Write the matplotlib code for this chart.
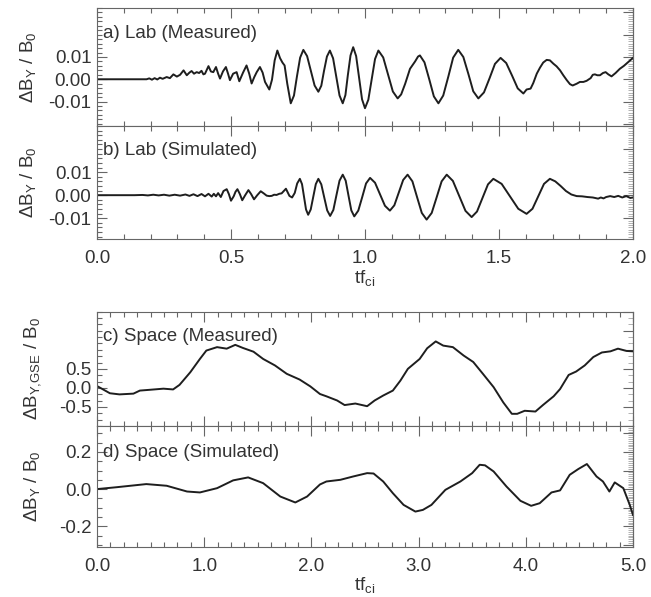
import matplotlib
matplotlib.use("Agg")
import matplotlib.pyplot as plt
from matplotlib.ticker import MultipleLocator, FixedLocator, FormatStrFormatter

plt.rcParams['font.family'] = ['Liberation Sans', 'DejaVu Sans']
plt.rcParams['axes.unicode_minus'] = False

# a) Lab (Measured)
t_a = [0.000, 0.185, 0.195, 0.205, 0.215, 0.225, 0.235, 0.245, 0.260, 0.272,
       0.285, 0.298, 0.310, 0.323, 0.335, 0.345, 0.353, 0.362, 0.372, 0.381,
       0.390, 0.397, 0.403, 0.416, 0.425, 0.434, 0.444, 0.452, 0.459, 0.470,
       0.481, 0.489, 0.496, 0.508, 0.521, 0.531, 0.545, 0.558, 0.568, 0.577,
       0.587, 0.596, 0.608, 0.618, 0.627, 0.643, 0.653, 0.663, 0.673, 0.683,
       0.692, 0.700, 0.710, 0.723, 0.735, 0.746, 0.758, 0.770, 0.784, 0.798,
       0.812, 0.826, 0.837, 0.847, 0.858, 0.869, 0.881, 0.893, 0.905, 0.917,
       0.927, 0.936, 0.946, 0.956, 0.967, 0.978, 0.989, 1.000, 1.0125, 1.025,
       1.0375, 1.050, 1.068, 1.086, 1.104, 1.122, 1.135, 1.150, 1.168, 1.187,
       1.198, 1.205, 1.222, 1.240, 1.257, 1.274, 1.292, 1.311, 1.329, 1.348,
       1.367, 1.386, 1.404, 1.423, 1.444, 1.465, 1.485, 1.506, 1.527, 1.549,
       1.570, 1.591, 1.603, 1.618, 1.628, 1.641, 1.653, 1.665, 1.678, 1.690,
       1.703, 1.715, 1.728, 1.740, 1.753, 1.765, 1.775, 1.790, 1.802, 1.815,
       1.827, 1.842, 1.850, 1.858, 1.867, 1.877, 1.888, 1.898, 1.908, 1.920,
       1.935, 1.951, 1.966, 1.982, 2.000]
dby_a = [0, 0, 0.0004, -0.0002, 0.0005, -0.0001, 0.0007, 0.0002, 0.0010, 0.0005,
         0.0022, 0.0012, 0.0020, 0.0040, 0.0018, 0.0030, 0.0037, 0.0025, 0.0032, 0.0028,
         0.0038, 0.0022, 0.0025, 0.0059, 0.0035, 0.0032, 0.0055, 0.0025, 0.0003, 0.0035,
         0.0055, 0.0025, -0.0004, 0.0025, 0.0032, -0.0009, 0.0030, 0.0062, 0.0025, -0.0019,
         0.0010, 0.0032, 0.0055, 0.0030, -0.0012, -0.0046, -0.0002, 0.0085, 0.0129, 0.0095,
         0.0075, 0.0062, -0.0020, -0.0108, -0.0073, 0.0012, 0.0097, 0.0132, 0.0104, 0.0038,
         -0.0028, -0.0056, -0.0029, 0.0037, 0.0102, 0.0129, 0.0094, 0.0011, -0.0073, -0.0108,
         -0.0071, 0.0018, 0.0107, 0.0144, 0.0104, 0.0007, -0.0090, -0.0130, -0.0092, 0.0000,
         0.0091, 0.0129, 0.0098, 0.0022, -0.0055, -0.0086, -0.0068, -0.0020, 0.0047, 0.0080,
         0.0102, 0.0107, 0.0076, -0.0001, -0.0077, -0.0108, -0.0073, 0.0012, 0.0097, 0.0132,
         0.0100, 0.0023, -0.0054, -0.0086, -0.0059, 0.0005, 0.0069, 0.0096, 0.0073, 0.0016,
         -0.0041, -0.0064, -0.0046, -0.0042, -0.0017, 0.0025, 0.0052, 0.0075, 0.0087, 0.0085,
         0.0070, 0.0058, 0.0040, 0.0018, -0.0004, -0.0022, -0.0028, -0.0020, -0.0012, -0.0012,
         -0.0007, 0.0005, 0.0020, 0.0022, 0.0018, 0.0018, 0.0028, 0.0032, 0.0022, 0.0013,
         0.0028, 0.0047, 0.0060, 0.0077, 0.0096]

# b) Lab (Simulated)
t_b = [0.000, 0.140, 0.170, 0.190, 0.210, 0.230, 0.250, 0.270, 0.290, 0.310,
       0.330, 0.345, 0.360, 0.375, 0.390, 0.403, 0.416, 0.428, 0.436, 0.444,
       0.452, 0.462, 0.472, 0.484, 0.492, 0.500, 0.510, 0.517, 0.524, 0.533,
       0.542, 0.553, 0.565, 0.575, 0.586, 0.598, 0.611, 0.622, 0.633, 0.643,
       0.652, 0.661, 0.670, 0.680, 0.689, 0.697, 0.705, 0.718, 0.728, 0.738,
       0.747, 0.757, 0.765, 0.7725, 0.780, 0.788, 0.7975, 0.807, 0.8165, 0.826,
       0.837, 0.848, 0.859, 0.870, 0.882, 0.8935, 0.905, 0.917, 0.928, 0.9385,
       0.949, 0.960, 0.975, 0.9895, 1.004, 1.019, 1.0375, 1.056, 1.0745, 1.093,
       1.1095, 1.126, 1.1425, 1.159, 1.177, 1.1945, 1.212, 1.230, 1.249, 1.2675,
       1.286, 1.305, 1.328, 1.3515, 1.375, 1.398, 1.418, 1.4385, 1.459, 1.479,
       1.510, 1.541, 1.572, 1.603, 1.625, 1.6465, 1.668, 1.690, 1.710, 1.730,
       1.750, 1.770, 1.790, 1.810, 1.830, 1.850, 1.870, 1.880, 1.890, 1.900,
       1.915, 1.930, 1.945, 1.960, 1.975, 1.990, 2.000]
dby_b = [0, 0, 0.0001, -0.0001, 0.0002, -0.0001, 0.0002, -0.0002, 0.0002, -0.0002,
         0.0003, -0.0003, 0.0004, -0.0004, 0.0005, -0.0005, 0.0006, -0.0006, 0.0006, -0.0005,
         0.0009, -0.0008, 0.0018, 0.0026, 0.0005, -0.0024, -0.0005, 0.0015, 0.0026, 0.0005,
         -0.0022, 0.0000, 0.0022, 0.0005, -0.0018, 0.0000, 0.0017, 0.0008, -0.0002, -0.0004,
         -0.0003, 0.0002, 0.0001, 0.0006, 0.0008, 0.0018, 0.0028, -0.0003, -0.0010, 0.0010,
         0.0051, 0.0071, 0.0048, -0.0007, -0.0062, -0.0085, -0.0062, -0.0007, 0.0048, 0.0071,
         0.0047, -0.0010, -0.0066, -0.0090, -0.0064, 0.0000, 0.0063, 0.0089, 0.0063, -0.0002,
         -0.0066, -0.0092, -0.0067, -0.0009, 0.0051, 0.0075, 0.0054, 0.0004, -0.0046, -0.0067,
         -0.0044, 0.0011, 0.0066, 0.0089, 0.0060, -0.0009, -0.0077, -0.0106, -0.0077, -0.0009,
         0.0060, 0.0089, 0.0062, -0.0003, -0.0068, -0.0095, -0.0071, -0.0012, 0.0047, 0.0071,
         0.0049, -0.0005, -0.0059, -0.0081, -0.0059, -0.0005, 0.0049, 0.0071, 0.0060, 0.0040,
         0.0018, 0.0003, -0.0004, -0.0005, -0.0008, -0.0010, -0.0015, -0.0010, -0.0014, -0.0008,
         -0.0004, -0.0008, -0.0003, -0.0010, -0.0004, -0.0012, -0.0010]

# c) Space (Measured)
t_c = [0.00, 0.12, 0.21, 0.34, 0.40, 0.49, 0.62, 0.71, 0.77, 0.87,
       0.96, 1.02, 1.12, 1.21, 1.29, 1.36, 1.46, 1.55, 1.66, 1.77,
       1.89, 1.99, 2.08, 2.14, 2.24, 2.31, 2.41, 2.52, 2.59, 2.67,
       2.76, 2.83, 2.90, 3.01, 3.08, 3.16, 3.23, 3.32, 3.42, 3.51,
       3.60, 3.70, 3.79, 3.87, 3.92, 3.99, 4.09, 4.16, 4.26, 4.32,
       4.40, 4.47, 4.55, 4.63, 4.71, 4.79, 4.86, 4.94, 5.00]
dby_c = [0.05, -0.14, -0.17, -0.15, -0.07, -0.05, -0.02, -0.04, 0.08, 0.41,
         0.76, 0.98, 1.07, 1.03, 1.13, 1.05, 0.95, 0.76, 0.59, 0.37,
         0.22, 0.04, -0.16, -0.22, -0.33, -0.45, -0.41, -0.48, -0.33, -0.20,
         -0.07, 0.19, 0.50, 0.76, 1.04, 1.22, 1.11, 1.07, 0.85, 0.68,
         0.37, 0.02, -0.38, -0.68, -0.68, -0.60, -0.62, -0.45, -0.22, -0.03,
         0.34, 0.43, 0.59, 0.81, 0.93, 0.96, 1.03, 0.97, 0.96]

# d) Space (Simulated)
t_d = [0.00, 0.18, 0.46, 0.65, 0.84, 0.96, 1.12, 1.27, 1.41, 1.55,
       1.71, 1.85, 1.96, 2.08, 2.14, 2.27, 2.39, 2.52, 2.58, 2.67,
       2.76, 2.86, 2.97, 3.04, 3.12, 3.25, 3.39, 3.50, 3.57, 3.62,
       3.70, 3.82, 3.95, 4.05, 4.13, 4.24, 4.32, 4.41, 4.49, 4.57,
       4.66, 4.72, 4.78, 4.83, 4.91, 4.97, 5.00]
dby_d = [0.0, 0.01, 0.027, 0.018, -0.013, -0.018, 0.005, 0.047, 0.063, 0.032,
         -0.04, -0.072, -0.04, 0.025, 0.041, 0.050, 0.068, 0.086, 0.084, 0.041,
         -0.022, -0.085, -0.121, -0.112, -0.085, -0.004, 0.041, 0.086, 0.131, 0.128,
         0.095, 0.014, -0.063, -0.09, -0.076, -0.018, -0.007, 0.077, 0.108, 0.135,
         0.068, 0.041, -0.013, 0.036, 0.005, -0.085, -0.139]

panel_titles = ['a) Lab (Measured)', 'b) Lab (Simulated)',
                'c) Space (Measured)', 'd) Space (Simulated)']
yticks_lab = [-0.01, 0.0, 0.01]
yticks_c = [-0.5, 0.0, 0.5]
yticks_d = [-0.2, 0.0, 0.2]

ink = '#333333'
axc = '#666666'
fs = 13.5

fig = plt.figure(figsize=(6.51, 5.97), dpi=100)
L, W = 0.149, 0.8233
ax_a = fig.add_axes([L, 0.7889, W, 0.1977])
ax_b = fig.add_axes([L, 0.5997, W, 0.1892])
ax_c = fig.add_axes([L, 0.2864, W, 0.1915])
ax_d = fig.add_axes([L, 0.0843, W, 0.2022])


def panel(ax, t, v, title, xlim, xmaj, xmin, ylim, yticks, yfmt, ymin,
          rmaj, rmin, ylabel, ylab_x, show_x):
    ax.plot(t, v, color='#1e1e1e', lw=1.4)
    ax.set_xlim(*xlim)
    ax.set_ylim(*ylim)
    ax.xaxis.set_major_locator(MultipleLocator(xmaj))
    ax.xaxis.set_minor_locator(MultipleLocator(xmin))
    ax.yaxis.set_major_locator(FixedLocator(yticks))
    ax.yaxis.set_minor_locator(MultipleLocator(ymin))
    ax.yaxis.set_major_formatter(FormatStrFormatter(yfmt))
    ax.xaxis.set_major_formatter(FormatStrFormatter('%.1f'))
    ax.tick_params(which='both', direction='in', top=True, right=False,
                   color=axc, width=0.8, labelsize=fs, labelcolor=ink)
    ax.tick_params(which='major', length=7)
    ax.tick_params(which='minor', length=3.5)
    ax.tick_params(axis='x', pad=8, labelbottom=show_x)
    ax.tick_params(axis='y', pad=4)
    for s in ax.spines.values():
        s.set_color(axc)
        s.set_linewidth(0.8)
    # right axis carries its own (much finer) tick marks
    sec = ax.secondary_yaxis('right')
    sec.yaxis.set_major_locator(MultipleLocator(rmaj))
    sec.yaxis.set_minor_locator(MultipleLocator(rmin))
    sec.tick_params(which='major', direction='in', length=7, width=0.8,
                    color=axc, labelright=False)
    sec.tick_params(which='minor', direction='in', length=3.5, width=0.45,
                    color='#888888')
    sec.spines['right'].set_color(axc)
    sec.spines['right'].set_linewidth(0.8)
    ax.text(0.012, 0.78, title, transform=ax.transAxes, ha='left', va='center',
            fontsize=fs, color=ink)
    ax.set_ylabel(ylabel, fontsize=fs, color=ink)
    ax.yaxis.set_label_coords(ylab_x, 0.5)
    if show_x:
        ax.set_xlabel(r'tf$_\mathregular{ci}$', fontsize=fs, color=ink, labelpad=1)


lab_ylabel = 'ΔB$_\\mathregular{Y}$ / B$_\\mathregular{0}$'
gse_ylabel = 'ΔB$_\\mathregular{Y{,}GSE}$ / B$_\\mathregular{0}$'

panel(ax_a, t_a, dby_a, panel_titles[0], (0, 2), 0.5, 0.1, (-0.021, 0.032),
      yticks_lab, '%.2f', 0.002, 0.01, 0.001, lab_ylabel, -0.108, False)
panel(ax_b, t_b, dby_b, panel_titles[1], (0, 2), 0.5, 0.1, (-0.019, 0.030),
      yticks_lab, '%.2f', 0.002, 0.01, 0.001, lab_ylabel, -0.108, True)
panel(ax_c, t_c, dby_c, panel_titles[2], (0, 5), 1.0, 0.125, (-1.0, 2.0),
      yticks_c, '%.1f', 1 / 6, 0.5, 1 / 6, gse_ylabel, -0.098, False)
panel(ax_d, t_d, dby_d, panel_titles[3], (0, 5), 1.0, 0.125, (-0.31, 0.34),
      yticks_d, '%.1f', 0.05, 0.1, 0.01, lab_ylabel, -0.1, True)

fig.savefig('out.png', dpi=100)
